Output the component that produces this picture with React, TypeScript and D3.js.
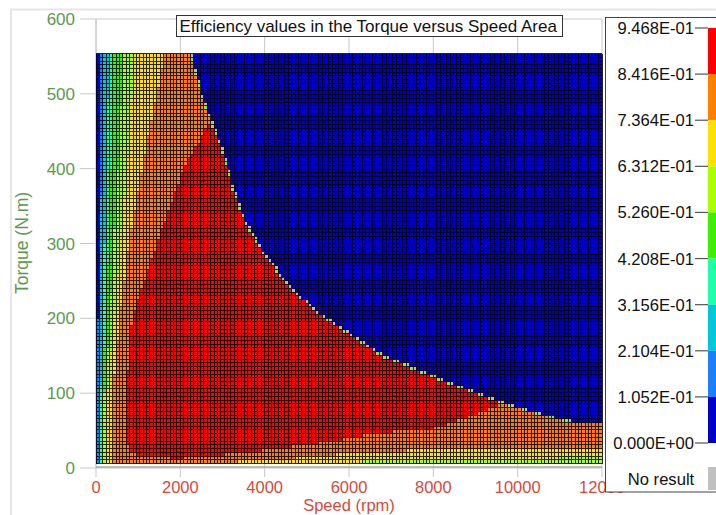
import React, { useMemo } from "react";
import * as d3 from "d3";

// ---------- data ----------
const speedTicks = [0, 2000, 4000, 6000, 8000, 10000, 12000];
const torqueTicks = [0, 100, 200, 300, 400, 500, 600];
const legendValues = [0.9468, 0.8416, 0.7364, 0.6312, 0.526, 0.4208, 0.3156, 0.2104, 0.1052, 0.0];
const legendLabels = ["9.468E-01", "8.416E-01", "7.364E-01", "6.312E-01", "5.260E-01", "4.208E-01", "3.156E-01", "2.104E-01", "1.052E-01", "0.000E+00"];
// level colours, lowest band (0) to highest band (8)
const levelColors = ["#0000c8", "#1a80ff", "#00c8dc", "#1effa8", "#3cf000", "#aaff00", "#ffe000", "#ff8000", "#ff0000"];
const noResultColor = "#c0c0c0";
const edgeGreen = "#96e62a";
const edgeGray = "#b5bfae";

// maximum torque envelope (speed rpm, torque N.m)
const envSpeed = [0, 1900, 2230, 2470, 2700, 3010, 3220, 3490, 3960, 4550, 5240, 6740, 8330, 9900, 11170, 12000];
const envTorque = [650, 650, 553, 500, 464, 420, 375, 331, 286, 242, 206, 150, 113, 81, 61, 59];

// left-side band boundaries: speed at which each level is reached, per torque
const leftTorque = [0, 20, 100, 200, 300, 400, 560];
const leftL1 = [30, 30, 35, 40, 45, 50, 60];
const leftL2 = [70, 70, 75, 100, 110, 125, 140];
const leftL3 = [110, 110, 115, 160, 200, 250, 300];
const leftL4 = [140, 140, 150, 230, 300, 360, 430];
const leftL5 = [180, 180, 200, 330, 420, 520, 670];
const leftL6 = [250, 250, 270, 430, 580, 740, 910];
const leftL7 = [380, 380, 400, 570, 780, 1090, 1650];

// low-torque band boundaries: torque at which each level is reached, per speed
const lowSpeed = [0, 1000, 2000, 4000, 6000, 8000, 10000, 12000];
const lowL1 = [0, 0, 0, 0, 0, 0, 0, 0];
const lowL2 = [0, 0, 0, 0, 0, 0, 0, 0];
const lowL3 = [0, 0, 0, 0, 0, 0, 0, 3];
const lowL4 = [0, 0, 0, 0, 0, 2, 4, 6];
const lowL5 = [0, 0, 0, 0, 3, 5, 7, 8];
const lowL6 = [0, 0, 0, 4, 8, 11, 13, 14];
const lowL7 = [0, 3, 5, 10, 20, 25, 27, 28];

// highest efficiency band (red) outline
const redSpeed = [2700, 2080, 1450, 850, 720, 720, 800, 950, 1500, 2000, 3000, 4000, 5000, 6000, 6740, 7400, 7900, 8400, 8800, 9200, 9500, 9500, 2700];
const redTorque = [462, 400, 300, 200, 100, 40, 25, 18, 14, 13, 18, 24, 31, 40, 47, 50, 52, 60, 68, 76, 83, 700, 700];

// mesh
const COLS = 150;
const ROWS = 110;
const SPEED_MAX = 12000;
const T_MIN = 6;
const T_MAX = 553.8;

function interp(xs: number[], ys: number[], v: number) {
  if (v <= xs[0]) return ys[0];
  if (v >= xs[xs.length - 1]) return ys[ys.length - 1];
  const i = d3.bisectRight(xs, v) - 1;
  const t = (v - xs[i]) / (xs[i + 1] - xs[i]);
  return ys[i] + t * (ys[i + 1] - ys[i]);
}

const FONT = "'Liberation Sans', Arial, Helvetica, sans-serif";

export default function App() {
  const x = d3.scaleLinear().domain([0, 12000]).range([96, 602]);
  const y = d3.scaleLinear().domain([0, 600]).range([468, 19]);
  const ly = d3.scaleLinear().domain([0, 0.9468]).range([443, 28]);

  const { cells, gridPath } = useMemo(() => {
    const sEdges = d3.range(COLS + 1).map((i) => (i * SPEED_MAX) / COLS);
    const tEdges = d3.range(ROWS + 1).map((j) => T_MIN + (j * (T_MAX - T_MIN)) / ROWS);
    const redPoly: [number, number][] = redSpeed.map((s, i) => [s, redTorque[i]]);
    const lefts = [leftL1, leftL2, leftL3, leftL4, leftL5, leftL6, leftL7];
    const lows = [lowL1, lowL2, lowL3, lowL4, lowL5, lowL6, lowL7];
    const env = (s: number) => interp(envSpeed, envTorque, s);
    const inside = (s: number, t: number) => t < env(s);
    const out: { x: number; y: number; w: number; h: number; c: string }[] = [];
    for (let i = 0; i < COLS; i++) {
      const s0 = sEdges[i], s1 = sEdges[i + 1], sc = (s0 + s1) / 2;
      for (let j = 0; j < ROWS; j++) {
        const t0 = tEdges[j], t1 = tEdges[j + 1], tc = (t0 + t1) / 2;
        let color: string;
        if (!inside(sc, tc)) {
          const n = [inside(s0, t0), inside(s1, t0), inside(s0, t1), inside(s1, t1)].filter(Boolean).length;
          if (n >= 2) color = edgeGreen;
          else if (n === 1) color = edgeGray;
          else color = levelColors[0];
        } else if (d3.polygonContains(redPoly, [sc, tc])) {
          color = levelColors[8];
        } else {
          let lc = 0;
          lefts.forEach((arr) => { if (sc > interp(leftTorque, arr, tc)) lc++; });
          let tcL = 0;
          lows.forEach((arr) => { if (tc > interp(lowSpeed, arr, sc)) tcL++; });
          color = levelColors[Math.min(lc, tcL)];
        }
        out.push({ x: x(s0), y: y(t1), w: x(s1) - x(s0), h: y(t0) - y(t1), c: color });
      }
    }
    const p = d3.path();
    sEdges.forEach((s) => { p.moveTo(x(s), y(T_MIN)); p.lineTo(x(s), y(T_MAX)); });
    tEdges.forEach((t) => { p.moveTo(x(0), y(t)); p.lineTo(x(SPEED_MAX), y(t)); });
    return { cells: out, gridPath: p.toString() };
  }, []);

  return (
    <svg width={716} height={515} style={{ position: "absolute", left: 0, top: 0, background: "#fff" }} fontFamily={FONT}>
      {/* faint outer panel frame */}
      <path d="M11,515 L11,9.5 L716,9.5" fill="none" stroke="#e6e6e6" strokeWidth={2} />

      {/* grid */}
      {speedTicks.map((s) => (
        <line key={"gx" + s} x1={x(s)} x2={x(s)} y1={y(600)} y2={y(0) + 9} stroke="#c8c8c8" strokeWidth={1} />
      ))}
      {torqueTicks.map((t) => (
        <line key={"gy" + t} x1={80} x2={x(12000)} y1={y(t)} y2={y(t)} stroke="#c8c8c8" strokeWidth={1} />
      ))}
      <line x1={x(0)} x2={x(0)} y1={y(600)} y2={y(0)} stroke="#c8c8c8" />

      {/* heat map */}
      <g shapeRendering="crispEdges">
        {cells.map((c, k) => (
          <rect key={k} x={c.x} y={c.y} width={c.w + 0.3} height={c.h + 0.3} fill={c.c} />
        ))}
        <path d={gridPath} stroke="#000" strokeOpacity={0.85} strokeWidth={1} fill="none" />
      </g>
      <line x1={x(0)} x2={x(12000)} y1={y(0) - 1} y2={y(0) - 1} stroke="#a8a8a8" strokeWidth={1.5} />

      {/* y tick labels */}
      {torqueTicks.map((t) => (
        <text key={"ty" + t} x={75} y={y(t)} dy="0.36em" textAnchor="end" fontSize={17} fill="#5b9a4e">
          {t}
        </text>
      ))}
      {/* x tick labels */}
      {speedTicks.map((s) => (
        <text key={"tx" + s} x={x(s)} y={492.5} textAnchor="middle" fontSize={16.5} fill="#d9493c">
          {s}
        </text>
      ))}
      <text x={349} y={511.2} textAnchor="middle" fontSize={16.5} fill="#d9493c">Speed (rpm)</text>
      <text transform={`translate(28,${243}) rotate(-90)`} textAnchor="middle" fontSize={17.5} fill="#5b9a4e">Torque (N.m)</text>

      {/* title */}
      <rect x={176.5} y={15.5} width={386} height={21} fill="#fff" stroke="#333" />
      <text x={179.5} y={32} fontSize={17} fill="#111">Efficiency values in the Torque versus Speed Area</text>

      {/* legend */}
      <rect x={605.5} y={17.5} width={130} height={474.5} fill="#fff" stroke="#444" />
      {legendValues.slice(0, -1).map((v, i) => (
        <rect key={"lb" + i} x={708} y={ly(v)} width={20} height={ly(legendValues[i + 1]) - ly(v)} fill={levelColors[8 - i]} />
      ))}
      {legendValues.map((v, i) => (
        <g key={"ll" + i}>
          <line x1={695} x2={708} y1={ly(v)} y2={ly(v)} stroke="#555" strokeWidth={1.2} />
          <text x={694} y={ly(v)} dy="0.36em" textAnchor="end" fontSize={16.6} fill="#111">
            {legendLabels[i]}
          </text>
        </g>
      ))}
      <text x={661} y={479} dy="0.36em" textAnchor="middle" fontSize={16.6} fill="#111">No result</text>
      <rect x={708} y={467} width={20} height={23} fill={noResultColor} />
    </svg>
  );
}
